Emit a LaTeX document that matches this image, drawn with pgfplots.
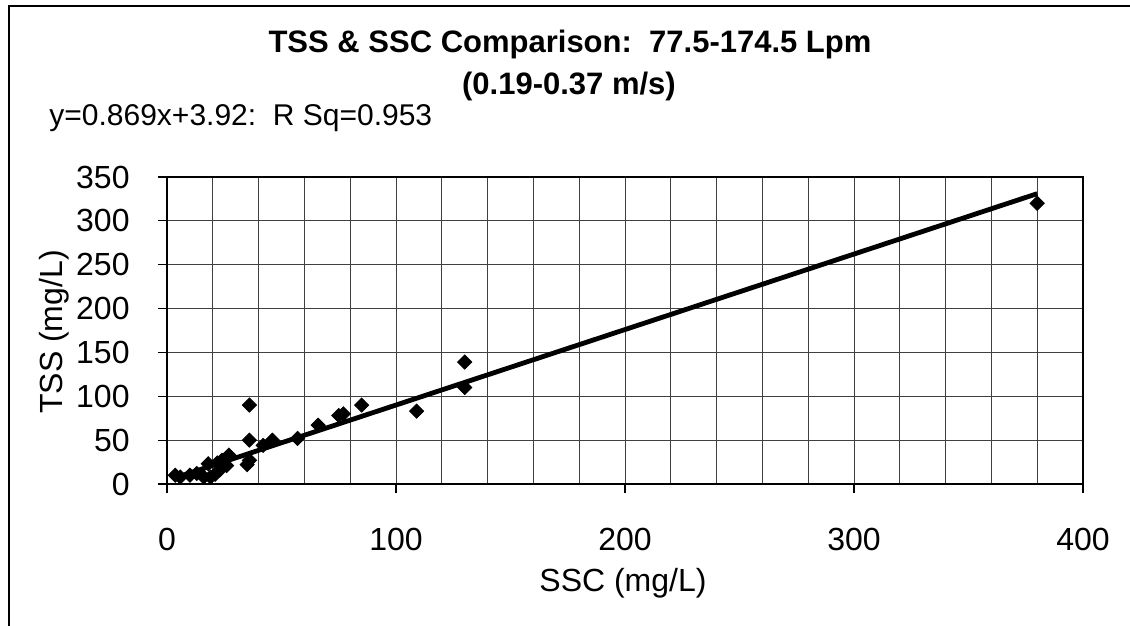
\documentclass[border=0pt]{standalone}
\usepackage{pgfplots}
\pgfplotsset{compat=1.18}
\usepackage{fontspec}
\setmainfont{Liberation Sans}
\begin{document}
\begin{tikzpicture}
\useasboundingbox (0pt,0pt) rectangle (565pt,-313pt);
\draw[line width=0.8pt] (4.5pt,-313pt) -- (4.5pt,-3pt) -- (565pt,-3pt);
\begin{axis}[
  at={(83.5pt,-242pt)}, anchor=south west,
  scale only axis, width=458pt, height=153.5pt,
  xmin=0, xmax=400, ymin=0, ymax=350,
  xtick={0,100,200,300,400},
  minor xtick={20,40,60,80,120,140,160,180,220,240,260,280,320,340,360,380},
  ytick={0,50,100,150,200,250,300,350},
  xtick pos=left, ytick pos=left,
  xmajorgrids, xminorgrids, ymajorgrids,
  grid style={black!75, line width=0.5pt},
  minor grid style={black!75, line width=0.5pt},
  tick align=outside, major tick length=4.5pt, minor tick length=0pt,
  tick style={black, line width=0.6pt},
  axis line style={black, line width=0.6pt},
  /pgf/number format/assume math mode=true,
  ticklabel style={font=\fontsize{16}{19}\selectfont, inner sep=0pt},
  xticklabel style={anchor=center, yshift=-23pt},
  yticklabel style={anchor=east, xshift=-14pt},
  clip=false,
]
\addplot[black, line width=2.4pt] coordinates {(4,7.4) (380,331)};
\addplot[only marks, mark=square*, mark size=2.5pt, mark options={rotate=45, fill=black, draw=black}] coordinates {
(3.6,10) (5.8,8) (10,10) (13,12) (16,8) (18,23) (19,8) (21,11) (22,24) (23,16)
(24,27) (26,21) (27,33) (35,22) (36,27) (36,50) (36,90) (42,44) (46,50) (57,52)
(66,67) (75,78) (77,80) (85,90) (109,83) (130,139) (130,110) (380,320)
};
\end{axis}
\node[font=\fontsize{15.5}{18}\selectfont\bfseries] at (285pt,-22pt) {TSS \& SSC Comparison:\ \ 77.5-174.5 Lpm};
\node[font=\fontsize{15.5}{18}\selectfont\bfseries] at (284.5pt,-43pt) {(0.19-0.37 m/s)};
\node[font=\fontsize{15}{18}\selectfont, anchor=west, inner sep=0pt] at (24.5pt,-59pt) {y=0.869x+3.92:\ \ R Sq=0.953};
\node[font=\fontsize{16}{19}\selectfont, rotate=90] at (27pt,-166pt) {TSS (mg/L)};
\node[font=\fontsize{16}{19}\selectfont] at (311.5pt,-291.5pt) {SSC (mg/L)};
\end{tikzpicture}
\end{document}
